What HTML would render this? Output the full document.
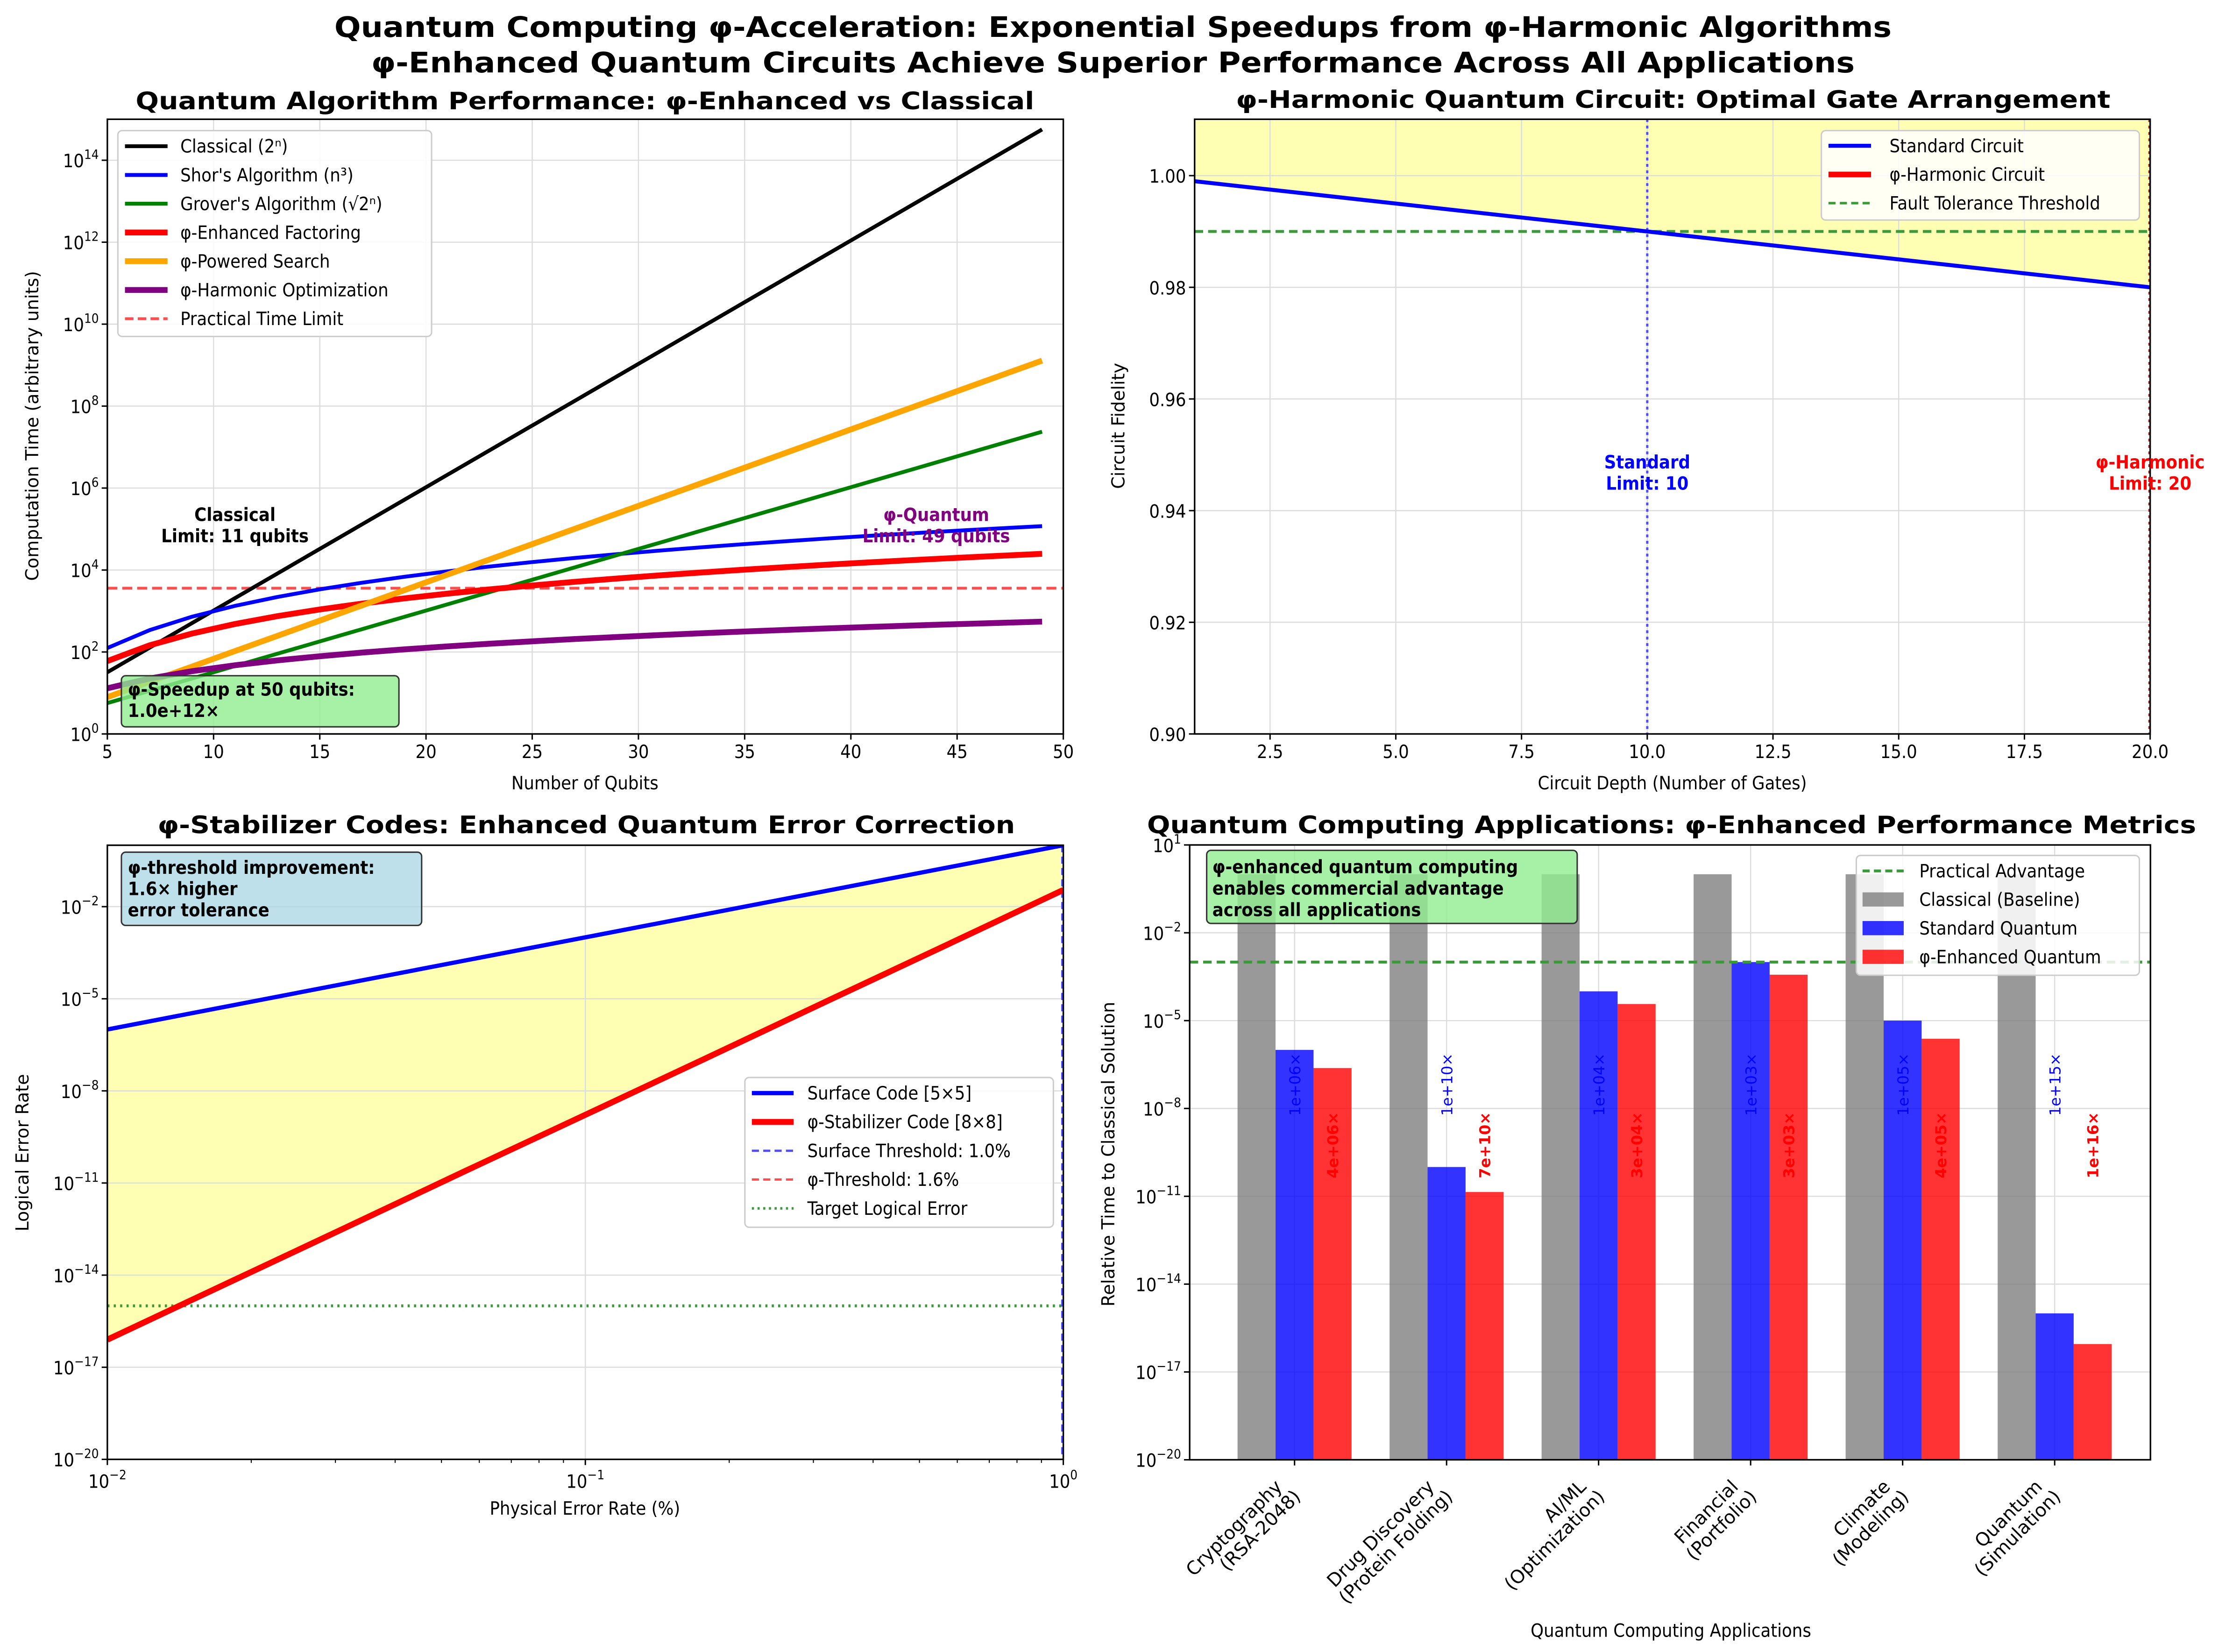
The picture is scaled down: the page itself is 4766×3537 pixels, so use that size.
<!DOCTYPE html>
<html><head><meta charset="utf-8">
<style>
html,body{margin:0;padding:0;background:#fff;}
svg{display:block;}
text{font-family:"DejaVu Sans Condensed","DejaVu Sans","Liberation Sans",sans-serif;}
.wide{font-family:"DejaVu Sans","Liberation Sans",sans-serif;}
</style></head>
<body>
<svg id="fig" xmlns="http://www.w3.org/2000/svg" width="4766" height="3537" viewBox="0 0 1568 1163.7">
<rect x="0" y="0" width="1568" height="1164" fill="#fff"/>
<text x="784" y="26" text-anchor="middle" font-weight="bold" font-size="20" textLength="1097" lengthAdjust="spacingAndGlyphs">Quantum Computing φ-Acceleration: Exponential Speedups from φ-Harmonic Algorithms</text>
<text x="784" y="51" text-anchor="middle" font-weight="bold" font-size="20" textLength="1045" lengthAdjust="spacingAndGlyphs">φ-Enhanced Quantum Circuits Achieve Superior Performance Across All Applications</text>
</svg>
<script>
// ---------- Panel 1 data ----------
const qubits = [5,7,9,11,13,15,17,19,21,23,25,27,29,31,33,35,37,39,41,43,45,47,49];
const classicalTime = [32,128,512,2048,8192,32768,131072,524288,2097152,8388608,33554432,134217728,536870912,2147483648,8589934592,34359738368,137438953472,549755813888,2199023255552,8796093022208,35184372088832,140737488355328,562949953421312];
const shorTime = [125,343,729,1331,2197,3375,4913,6859,9261,12167,15625,19683,24389,29791,35937,42875,50653,59319,68921,79507,91125,103823,117649];
const groverTime = [5.66,11.3,22.6,45.3,90.5,181,362,724,1448,2896,5793,11585,23170,46341,92682,185364,370728,741455,1482910,2965821,5931642,11863283,23726566];
const phiFactorTime = [60,146,283,481,748,1091,1517,2037,2649,3373,4198,5152,6209,7413,8730,10209,11830,13583,15488,17579,19815,22233,24831];
const phiSearchTime = [7.9,18.8,44.3,105,247,583,1377,3251,7691,18155,42855,101158,238781,564937,1333521,3147748,7430191,17538805,41495404,97948999,231206479,545757861,1288249552];
const phiOptTime = [13,22.6,34.1,47.4,62.4,78.7,96.8,116,137,159,182,207,232,259,287,316,346,378,410,444,478,513,550];
const practicalLimit = 3600;
const p1XTicks = [5,10,15,20,25,30,35,40,45,50];
const p1YTickExps = [0,2,4,6,8,10,12,14];
// ---------- Panel 2 data ----------
const depth = [1,20];
const standardFidelity = [0.999,0.980];
const faultThreshold = 0.99;
const standardLimit = 10;
const phiLimit = 20;
const p2XTicks = [2.5,5.0,7.5,10.0,12.5,15.0,17.5,20.0];
const p2YTicks = [0.90,0.92,0.94,0.96,0.98,1.00];
// ---------- Panel 3 data ----------
const physError = [0.01,0.0178,0.0316,0.0562,0.1,0.178,0.316,0.562,1.0];
const surfaceLogical = [1e-6,5.64e-6,3.16e-5,1.78e-4,1e-3,5.64e-3,3.16e-2,0.178,1.0];
const phiLogical = [7.9e-17,5.4e-15,3.6e-13,2.5e-11,1.66e-9,1.12e-7,7.6e-6,5.1e-4,3.5e-2];
const targetLogical = 1e-15;
const surfaceThreshold = 1.0;
const p3XTickExps = [-2,-1,0];
const p3YTickExps = [-20,-17,-14,-11,-8,-5,-2];
// ---------- Panel 4 data ----------
const appLine1 = ["Cryptography","Drug Discovery","AI/ML","Financial","Climate","Quantum"];
const appLine2 = ["(RSA-2048)","(Protein Folding)","(Optimization)","(Portfolio)","(Modeling)","(Simulation)"];
const classicalRel = [1,1,1,1,1,1];
const standardRel = [1e-6,1e-10,1e-4,1e-3,1e-5,1e-15];
const phiRel = [2.4e-7,1.4e-11,3.7e-5,3.7e-4,2.4e-6,9e-17];
const stdLabels = ["1e+06×","1e+10×","1e+04×","1e+03×","1e+05×","1e+15×"];
const phiLabels = ["4e+06×","7e+10×","3e+04×","3e+03×","4e+05×","1e+16×"];
const practicalAdvantage = 1e-3;
const p4YTickExps = [-20,-17,-14,-11,-8,-5,-2,1];

const NS='http://www.w3.org/2000/svg';
const fig=document.getElementById('fig');
function mk(tag,name,attrs,parent,txt){
  const e=document.createElementNS(NS,tag);
  
  
  for(const k in attrs) e.setAttribute(k,attrs[k]);
  if(txt!==undefined) e.textContent=txt;
  (parent||fig).appendChild(e);
  return e;
}
function lin(d0,d1,r0,r1){return v=>r0+(v-d0)/(d1-d0)*(r1-r0);}
function logs(e0,e1,r0,r1){return v=>r0+(Math.log10(v)-e0)/(e1-e0)*(r1-r0);}
function pathFrom(xsArr,ysArr,fx,fy){return xsArr.map((x,i)=>(i?'L':'M')+fx(x).toFixed(2)+','+fy(ysArr[i]).toFixed(2)).join(' ');}
function powLabel(x,y,exp,anchor,name,size){
  const t=mk('text',name,{x:x,y:y,'text-anchor':anchor||'end','font-size':size||13},fig);
  const a=document.createElementNS(NS,'tspan');a.textContent='10';t.appendChild(a);
  const b=document.createElementNS(NS,'tspan');b.setAttribute('dy','-6');b.setAttribute('font-size',(size||13)*0.7);
  b.textContent=String(exp).replace('-','−');t.appendChild(b);
  return t;
}
let clipN=0;
function clip(x0,y0,x1,y1){
  const id='c'+(clipN++);
  const cp=mk('clipPath','clip-region',{id:id});
  mk('rect','clip-rect',{x:x0,y:y0,width:x1-x0,height:y1-y0},cp);
  return 'url(#'+id+')';
}
function frame(x0,y0,x1,y1,name){
  mk('rect',name,{x:x0,y:y0,width:x1-x0,height:y1-y0,fill:'none',stroke:'#000','stroke-width':1.1});
}
const GRID='#dcdcdc';

// ================= PANEL 1 =================
(function(){
  const x0=75.6,x1=749,y0=84,y1=517;
  const fx=lin(5,50,x0,x1), fy=logs(0,15,y1,y0);
  const g=mk('g','panel-1-plot-area',{'clip-path':clip(x0,y0,x1,y1)});
  p1XTicks.forEach(t=>{mk('line','x-gridline',{x1:fx(t),x2:fx(t),y1:y0,y2:y1,stroke:GRID,'stroke-width':0.8},g);});
  p1YTickExps.forEach(e=>{mk('line','y-gridline',{x1:x0,x2:x1,y1:fy(Math.pow(10,e)),y2:fy(Math.pow(10,e)),stroke:GRID,'stroke-width':0.8},g);});
  mk('line','practical-time-limit-line',{x1:x0,x2:x1,y1:fy(practicalLimit),y2:fy(practicalLimit),stroke:'#ff4d4d','stroke-width':2,'stroke-dasharray':'7,3.5'},g);
  const series=[[classicalTime,'#000',2.7,'classical-line'],[shorTime,'#0000ff',2.7,'shor-line'],[groverTime,'#008000',2.7,'grover-line'],[phiFactorTime,'#ff0000',4.1,'phi-factoring-line'],[phiSearchTime,'#ffa500',4.1,'phi-search-line'],[phiOptTime,'#800080',4.1,'phi-optimization-line']];
  series.forEach(s=>{mk('path',s[3],{d:pathFrom(qubits,s[0],fx,fy),fill:'none',stroke:s[1],'stroke-width':s[2],'stroke-linejoin':'round'},g);});
  frame(x0,y0,x1,y1,'panel-1-frame');
  p1XTicks.forEach(t=>{mk('line','x-tick',{x1:fx(t),x2:fx(t),y1:y1,y2:y1+4,stroke:'#000'});mk('text','x-tick-label',{x:fx(t),y:y1+17,'text-anchor':'middle','font-size':13},fig,String(t));});
  p1YTickExps.forEach(e=>{const y=fy(Math.pow(10,e));mk('line','y-tick',{x1:x0-4,x2:x0,y1:y,y2:y,stroke:'#000'});powLabel(x0-6,y+5,e,'end','y-tick-label');});
  mk('text','x-axis-title',{x:412,y:556,'text-anchor':'middle','font-size':13},fig,'Number of Qubits');
  mk('text','y-axis-title',{x:27,y:300,'text-anchor':'middle','font-size':12.5,class:'wide',transform:'rotate(-90 27 300)'},fig,'Computation Time (arbitrary units)');
  mk('text','panel-1-title',{x:412,y:77,'text-anchor':'middle','font-size':17,'font-weight':'bold',textLength:633,lengthAdjust:'spacingAndGlyphs'},fig,'Quantum Algorithm Performance: φ-Enhanced vs Classical');
  mk('rect','legend-box',{x:83,y:92,width:221,height:145,rx:3,fill:'#fff','fill-opacity':0.85,stroke:'#ccc'});
  const lg=[['Classical (2ⁿ)','#000',2.7,''],["Shor's Algorithm (n³)",'#0000ff',2.7,''],["Grover's Algorithm (√2ⁿ)",'#008000',2.7,''],['φ-Enhanced Factoring','#ff0000',4.1,''],['φ-Powered Search','#ffa500',4.1,''],['φ-Harmonic Optimization','#800080',4.1,''],['Practical Time Limit','#ff4d4d',2,'6,3']];
  lg.forEach((l,i)=>{const y=103+i*20.25;
    const ln=mk('line','legend-entry-line',{x1:88,x2:118,y1:y,y2:y,stroke:l[1],'stroke-width':l[2]});if(l[3])ln.setAttribute('stroke-dasharray',l[3]);
    mk('text','legend-entry',{x:127,y:y+4.5,'font-size':13},fig,l[0]);});
  mk('text','classical-limit-label',{x:165.5,y:367,'text-anchor':'middle','font-size':13,'font-weight':'bold'},fig,'Classical');
  mk('text','classical-limit-label',{x:165.5,y:382,'text-anchor':'middle','font-size':13,'font-weight':'bold'},fig,'Limit: 11 qubits');
  mk('text','quantum-limit-label',{x:659.5,y:367,'text-anchor':'middle','font-size':13,'font-weight':'bold',fill:'#800080'},fig,'φ-Quantum');
  mk('text','quantum-limit-label',{x:659.5,y:382,'text-anchor':'middle','font-size':13,'font-weight':'bold',fill:'#800080'},fig,'Limit: 49 qubits');
  mk('rect','speedup-box',{x:85.5,y:476,width:195.5,height:36,rx:3,fill:'#90ee90','fill-opacity':0.8,stroke:'#333'});
  mk('text','speedup-text',{x:90,y:490,'font-size':13,'font-weight':'bold'},fig,'φ-Speedup at 50 qubits:');
  mk('text','speedup-text',{x:90,y:505,'font-size':13,'font-weight':'bold'},fig,'1.0e+12×');
})();

// ================= PANEL 2 =================
(function(){
  const x0=841.5,x1=1514.6,y0=84,y1=517;
  const fx=lin(1,20,x0,x1), fy=lin(0.9,1.0101,y1,y0);
  const g=mk('g','panel-2-plot-area',{'clip-path':clip(x0,y0,x1,y1)});
  mk('path','fidelity-fill',{d:'M'+fx(depth[0])+','+fy(1.0101)+' L'+fx(depth[0])+','+fy(standardFidelity[0])+' L'+fx(depth[1])+','+fy(standardFidelity[1])+' L'+fx(depth[1])+','+fy(1.0101)+'Z',fill:'#ffffb3'},g);
  p2XTicks.forEach(t=>{mk('line','x-gridline',{x1:fx(t),x2:fx(t),y1:y0,y2:y1,stroke:GRID,'stroke-width':0.8},g);});
  p2YTicks.forEach(t=>{mk('line','y-gridline',{x1:x0,x2:x1,y1:fy(t),y2:fy(t),stroke:GRID,'stroke-width':0.8},g);});
  mk('line','fault-tolerance-line',{x1:x0,x2:x1,y1:fy(faultThreshold),y2:fy(faultThreshold),stroke:'#3a9a3a','stroke-width':2,'stroke-dasharray':'6,3.5'},g);
  mk('line','standard-limit-line',{x1:fx(standardLimit),x2:fx(standardLimit),y1:y0,y2:y1,stroke:'#4d4dff','stroke-width':1.6,'stroke-dasharray':'2,2.5'},g);
  mk('line','phi-limit-line',{x1:fx(phiLimit)-0.5,x2:fx(phiLimit)-0.5,y1:y0,y2:y1,stroke:'#aa2222','stroke-width':1.6,'stroke-dasharray':'2,2.5'},g);
  mk('path','standard-circuit-line',{d:pathFrom(depth,standardFidelity,fx,fy),fill:'none',stroke:'#0000ff','stroke-width':2.8},g);
  frame(x0,y0,x1,y1,'panel-2-frame');
  p2XTicks.forEach(t=>{mk('line','x-tick',{x1:fx(t),x2:fx(t),y1:y1,y2:y1+4,stroke:'#000'});mk('text','x-tick-label',{x:fx(t),y:y1+17,'text-anchor':'middle','font-size':13},fig,t.toFixed(1));});
  p2YTicks.forEach(t=>{mk('line','y-tick',{x1:x0-4,x2:x0,y1:fy(t),y2:fy(t),stroke:'#000'});mk('text','y-tick-label',{x:x0-6,y:fy(t)+5,'text-anchor':'end','font-size':13},fig,t.toFixed(2));});
  mk('text','x-axis-title',{x:1178,y:556,'text-anchor':'middle','font-size':13},fig,'Circuit Depth (Number of Gates)');
  mk('text','y-axis-title',{x:792,y:300,'text-anchor':'middle','font-size':12.5,class:'wide',transform:'rotate(-90 792 300)'},fig,'Circuit Fidelity');
  mk('text','panel-2-title',{x:1178.6,y:76,'text-anchor':'middle','font-size':17,'font-weight':'bold',textLength:616,lengthAdjust:'spacingAndGlyphs'},fig,'φ-Harmonic Quantum Circuit: Optimal Gate Arrangement');
  mk('rect','legend-box',{x:1283,y:92,width:224,height:63,rx:3,fill:'#fff','fill-opacity':0.85,stroke:'#ccc'});
  const lg=[['Standard Circuit','#0000ff',2.8,''],['φ-Harmonic Circuit','#ff0000',4,''],['Fault Tolerance Threshold','#3a9a3a',1.8,'5,3']];
  lg.forEach((l,i)=>{const y=102.7+i*20.2;
    const ln=mk('line','legend-entry-line',{x1:1288,x2:1318,y1:y,y2:y,stroke:l[1],'stroke-width':l[2]});if(l[3])ln.setAttribute('stroke-dasharray',l[3]);
    mk('text','legend-entry',{x:1331,y:y+4.5,'font-size':13},fig,l[0]);});
  mk('text','standard-limit-label',{x:fx(standardLimit),y:330,'text-anchor':'middle','font-size':13,'font-weight':'bold',fill:'#0000ff'},fig,'Standard');
  mk('text','standard-limit-label',{x:fx(standardLimit),y:345,'text-anchor':'middle','font-size':13,'font-weight':'bold',fill:'#0000ff'},fig,'Limit: 10');
  mk('text','phi-limit-label',{x:fx(phiLimit),y:330,'text-anchor':'middle','font-size':13,'font-weight':'bold',fill:'#ff0000'},fig,'φ-Harmonic');
  mk('text','phi-limit-label',{x:fx(phiLimit),y:345,'text-anchor':'middle','font-size':13,'font-weight':'bold',fill:'#ff0000'},fig,'Limit: 20');
})();

// ================= PANEL 3 =================
(function(){
  const x0=75.6,x1=749,y0=595.4,y1=1028;
  const fx=logs(-2,0,x0,x1), fy=logs(-20,0,y1,y0);
  const g=mk('g','panel-3-plot-area',{'clip-path':clip(x0,y0,x1,y1)});
  let d='M'+physError.map((p,i)=>fx(p).toFixed(2)+','+fy(surfaceLogical[i]).toFixed(2)).join(' L');
  for(let i=physError.length-1;i>=0;i--) d+=' L'+fx(physError[i]).toFixed(2)+','+fy(phiLogical[i]).toFixed(2);
  mk('path','improvement-fill',{d:d+'Z',fill:'#ffffb3'},g);
  mk('line','x-gridline',{x1:fx(0.1),x2:fx(0.1),y1:y0,y2:y1,stroke:GRID,'stroke-width':0.8},g);
  p3YTickExps.forEach(e=>{const y=fy(Math.pow(10,e));mk('line','y-gridline',{x1:x0,x2:x1,y1:y,y2:y,stroke:GRID,'stroke-width':0.8},g);});
  mk('line','target-logical-line',{x1:x0,x2:x1,y1:fy(targetLogical),y2:fy(targetLogical),stroke:'#3a9a3a','stroke-width':2,'stroke-dasharray':'1.5,3'},g);
  mk('line','surface-threshold-line',{x1:fx(surfaceThreshold)-0.7,x2:fx(surfaceThreshold)-0.7,y1:y0,y2:y1,stroke:'#4d4dff','stroke-width':1.6,'stroke-dasharray':'5,3'},g);
  mk('path','surface-code-line',{d:pathFrom(physError,surfaceLogical,fx,fy),fill:'none',stroke:'#0000ff','stroke-width':3},g);
  mk('path','phi-stabilizer-line',{d:pathFrom(physError,phiLogical,fx,fy),fill:'none',stroke:'#ff0000','stroke-width':4.2},g);
  frame(x0,y0,x1,y1,'panel-3-frame');
  p3XTickExps.forEach(e=>{const x=fx(Math.pow(10,e));mk('line','x-tick',{x1:x,x2:x,y1:y1,y2:y1+4,stroke:'#000'});powLabel(x,y1+20,e,'middle','x-tick-label');});
  [-2,-1].forEach(e=>{for(let k=2;k<=9;k++){const x=fx(k*Math.pow(10,e));mk('line','x-minor-tick',{x1:x,x2:x,y1:y1,y2:y1+2.5,stroke:'#000','stroke-width':0.7});}});
  p3YTickExps.forEach(e=>{const y=fy(Math.pow(10,e));mk('line','y-tick',{x1:x0-4,x2:x0,y1:y,y2:y,stroke:'#000'});powLabel(x0-6,y+5,e,'end','y-tick-label');});
  mk('text','x-axis-title',{x:412,y:1067,'text-anchor':'middle','font-size':13},fig,'Physical Error Rate (%)');
  mk('text','y-axis-title',{x:20,y:812,'text-anchor':'middle','font-size':12.5,class:'wide',transform:'rotate(-90 20 812)'},fig,'Logical Error Rate');
  mk('text','panel-3-title',{x:413,y:587,'text-anchor':'middle','font-size':17,'font-weight':'bold',textLength:604,lengthAdjust:'spacingAndGlyphs'},fig,'φ-Stabilizer Codes: Enhanced Quantum Error Correction');
  mk('rect','threshold-box',{x:85.5,y:600.3,width:211.5,height:51.6,rx:3,fill:'#add8e6','fill-opacity':0.8,stroke:'#333'});
  ['φ-threshold improvement:','1.6× higher','error tolerance'].forEach((s,i)=>{mk('text','threshold-text',{x:90,y:615.5+i*15,'font-size':13,'font-weight':'bold'},fig,s);});
  mk('rect','legend-box',{x:524.7,y:759,width:217.3,height:105.5,rx:3,fill:'#fff','fill-opacity':0.85,stroke:'#ccc'});
  const lg=[['Surface Code [5×5]','#0000ff',3,''],['φ-Stabilizer Code [8×8]','#ff0000',4.2,''],['Surface Threshold: 1.0%','#4d4dff',1.6,'5,3'],['φ-Threshold: 1.6%','#ff4d4d',1.6,'5,3'],['Target Logical Error','#3a9a3a',1.8,'1.5,2.5']];
  lg.forEach((l,i)=>{const y=770+i*20.3;
    const ln=mk('line','legend-entry-line',{x1:529.6,x2:559,y1:y,y2:y,stroke:l[1],'stroke-width':l[2]});if(l[3])ln.setAttribute('stroke-dasharray',l[3]);
    mk('text','legend-entry',{x:568.7,y:y+4.5,'font-size':13},fig,l[0]);});
})();

// ================= PANEL 4 =================
(function(){
  const x0=838,x1=1514.8,y0=595.2,y1=1028.3;
  const fx=lin(-0.69,5.63,x0,x1), fy=logs(-20,1,y1,y0);
  const bw=fx(0.25)-fx(0);
  const g=mk('g','panel-4-plot-area',{'clip-path':clip(x0,y0,x1,y1)});
  appLine1.forEach((a,i)=>{mk('line','x-gridline',{x1:fx(i),x2:fx(i),y1:y0,y2:y1,stroke:GRID,'stroke-width':0.8},g);});
  p4YTickExps.forEach(e=>{const y=fy(Math.pow(10,e));mk('line','y-gridline',{x1:x0,x2:x1,y1:y,y2:y,stroke:GRID,'stroke-width':0.8},g);});
  appLine1.forEach((a,i)=>{
    const yc=fy(classicalRel[i]);mk('rect','bar-classical',{x:fx(i-0.375),y:yc,width:bw,height:y1-yc,fill:'#808080','fill-opacity':0.8},g);
    const ys=fy(standardRel[i]);mk('rect','bar-standard-quantum',{x:fx(i-0.125),y:ys,width:bw,height:y1-ys,fill:'#0000ff','fill-opacity':0.8},g);
    const yp=fy(phiRel[i]);mk('rect','bar-phi-quantum',{x:fx(i+0.125),y:yp,width:bw,height:y1-yp,fill:'#ff0000','fill-opacity':0.8},g);
  });
  mk('line','practical-advantage-line',{x1:x0,x2:x1,y1:fy(practicalAdvantage),y2:fy(practicalAdvantage),stroke:'#3a9a3a','stroke-width':2,'stroke-dasharray':'6,3.5'},g);
  appLine1.forEach((a,i)=>{
    const xb=fx(i)+4, xr=fx(i+0.25)+4;
    mk('text','standard-speedup-label',{x:xb,y:786,'font-size':10.5,fill:'#0000ff',class:'wide',transform:'rotate(-90 '+xb+' 786)'},g,stdLabels[i]);
    mk('text','phi-speedup-label',{x:xr,y:830,'font-size':10.5,'font-weight':'bold',fill:'#ff0000',class:'wide',transform:'rotate(-90 '+xr+' 830)'},g,phiLabels[i]);
  });
  frame(x0,y0,x1,y1,'panel-4-frame');
  appLine1.forEach((a,i)=>{const x=fx(i);mk('line','x-tick',{x1:x,x2:x,y1:y1,y2:y1+4,stroke:'#000'});
    mk('text','x-tick-label',{x:x-8,y:1048,'text-anchor':'end','font-size':13,class:'wide',transform:'rotate(-45 '+(x-8)+' 1048)'},fig,a);
    mk('text','x-tick-label',{x:x+5,y:1055,'text-anchor':'end','font-size':13,class:'wide',transform:'rotate(-45 '+(x+5)+' 1055)'},fig,appLine2[i]);});
  p4YTickExps.forEach(e=>{const y=fy(Math.pow(10,e));mk('line','y-tick',{x1:x0-4,x2:x0,y1:y,y2:y,stroke:'#000'});powLabel(x0-6,y+5,e,'end','y-tick-label');});
  mk('text','x-axis-title',{x:1177,y:1153,'text-anchor':'middle','font-size':13},fig,'Quantum Computing Applications');
  mk('text','y-axis-title',{x:785,y:813,'text-anchor':'middle','font-size':12.5,class:'wide',transform:'rotate(-90 785 813)'},fig,'Relative Time to Classical Solution');
  mk('text','panel-4-title',{x:1177.5,y:587,'text-anchor':'middle','font-size':17,'font-weight':'bold',textLength:739,lengthAdjust:'spacingAndGlyphs'},fig,'Quantum Computing Applications: φ-Enhanced Performance Metrics');
  mk('rect','advantage-box',{x:850,y:599,width:261,height:51.5,rx:3,fill:'#90ee90','fill-opacity':0.8,stroke:'#333'});
  ['φ-enhanced quantum computing','enables commercial advantage','across all applications'].forEach((s,i)=>{mk('text','advantage-text',{x:854,y:615+i*15.2,'font-size':13,'font-weight':'bold'},fig,s);});
  mk('rect','legend-box',{x:1307.6,y:602.6,width:199.4,height:84.4,rx:3,fill:'#fff','fill-opacity':0.85,stroke:'#ccc'});
  mk('line','legend-entry-line',{x1:1312,x2:1341,y1:613.5,y2:613.5,stroke:'#3a9a3a','stroke-width':2,'stroke-dasharray':'5,3'});
  mk('text','legend-entry',{x:1352,y:618,'font-size':13},fig,'Practical Advantage');
  [['Classical (Baseline)','#808080'],['Standard Quantum','#0000ff'],['φ-Enhanced Quantum','#ff0000']].forEach((l,i)=>{const y=633.6+i*20.2;
    mk('rect','legend-patch',{x:1312,y:y-5,width:29,height:10,fill:l[1],'fill-opacity':0.8});
    mk('text','legend-entry',{x:1352,y:y+4.5,'font-size':13},fig,l[0]);});
})();
</script>
</body></html>
